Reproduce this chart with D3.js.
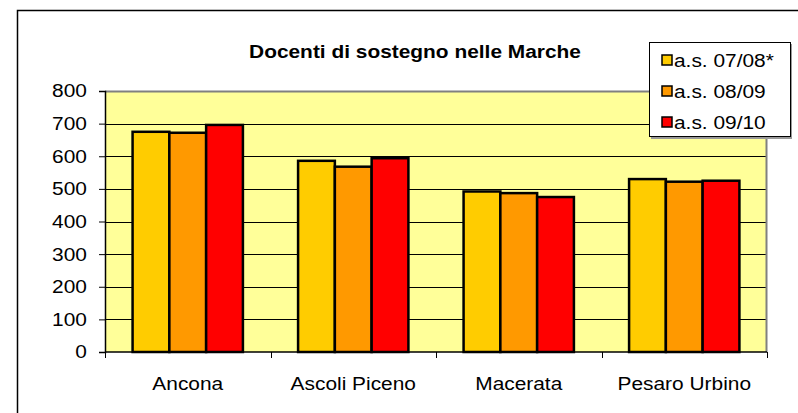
<!DOCTYPE html>
<html>
<head>
<meta charset="utf-8">
<script src="https://cdn.jsdelivr.net/npm/d3@7"></script>
<style>
  body { margin: 0; background: #fff; }
  svg text { font-family: "Liberation Sans", Arial, sans-serif; fill: #000; }
</style>
</head>
<body>
<div id="main"></div>
<script>
// DATA
const categories = ["Ancona", "Ascoli Piceno", "Macerata", "Pesaro Urbino"]
const seriesNames = ["a.s. 07/08*", "a.s. 08/09", "a.s. 09/10"]
const values0708 = [675, 586, 492, 530]
const values0809 = [672, 568, 487, 522]
const values0910 = [696, 594, 475, 525]
const yTicks = [0, 100, 200, 300, 400, 500, 600, 700, 800]

const series = [values0708, values0809, values0910]
const colors = ["#FFCC00", "#FF9900", "#FF0000"]

// SETUP
const width = 798, height = 413
const plot = {left: 105, top: 91, right: 767, bottom: 352}
const FONT = "18.5px"
const STRETCH = 1.13   // the original text is a bit wider than tall

let svg = d3.select("#main").append("svg")
  .attr("width", width)
  .attr("height", height)

// outer frame (right / bottom fall outside the picture)
svg.append("rect")
  .attr("x", 17.5).attr("y", 10.5)
  .attr("width", 800).attr("height", 420)
  .attr("fill", "#fff").attr("stroke", "#000").attr("stroke-width", 1.5)

// Excel style: gap width 150% of one bar
let bandW = (plot.right - plot.left) / categories.length
let barW = bandW / 4.5

let xc = d3.scalePoint()
  .domain(categories)
  .range([plot.left + bandW / 2, plot.right - bandW / 2])

let x1 = d3.scaleBand()
  .domain(d3.range(series.length))
  .range([0, barW * 3])

let y = d3.scaleLinear()
  .domain([0, 800])
  .range([plot.bottom, plot.top])

// plot area
svg.append("rect")
  .attr("x", plot.left).attr("y", plot.top)
  .attr("width", plot.right - plot.left).attr("height", plot.bottom - plot.top)
  .attr("fill", "#FFFF99")

// gridlines
svg.append("g")
  .selectAll("line")
  .data(yTicks.filter(d => d > 0 && d < 800))
  .enter().append("line")
    .attr("x1", plot.left).attr("x2", plot.right)
    .attr("y1", d => Math.round(y(d)) + 0.5).attr("y2", d => Math.round(y(d)) + 0.5)
    .attr("stroke", "#000").attr("stroke-width", 1)

// plot border top/right
svg.append("path")
  .attr("d", `M${plot.left},${plot.top + 0.5}H${plot.right - 0.5}V${plot.bottom}`)
  .attr("fill", "none").attr("stroke", "#808080").attr("stroke-width", 2)

// bars
let groups = svg.append("g")
  .selectAll("g")
  .data(categories)
  .enter().append("g")
    .attr("transform", d => `translate(${xc(d) - barW * 1.5},0)`)

groups.selectAll("rect")
  .data((d, i) => series.map((s, k) => ({k: k, v: s[i]})))
  .enter().append("rect")
    .attr("x", d => x1(d.k))
    .attr("y", d => y(d.v))
    .attr("width", x1.bandwidth())
    .attr("height", d => plot.bottom - y(d.v))
    .attr("fill", d => colors[d.k])
    .attr("stroke", "#000")
    .attr("stroke-width", 2.5)

// y axis
let yAxis = d3.axisLeft(y)
  .tickValues(yTicks)
  .tickSize(6)
  .tickPadding(10)

let gy = svg.append("g")
  .attr("transform", `translate(${plot.left},0)`)
  .call(yAxis)
gy.select(".domain").attr("stroke", "#000").attr("stroke-width", 1.5)
gy.selectAll(".tick line").attr("stroke", "#000")
gy.selectAll("text")
  .style("font-size", FONT)
  .attr("transform", `scale(${STRETCH},1)`)

// x axis
let xTicksPos = d3.range(categories.length + 1).map(i => plot.left + i * bandW)
svg.append("line")
  .attr("x1", plot.left).attr("x2", plot.right)
  .attr("y1", plot.bottom).attr("y2", plot.bottom)
  .attr("stroke", "#000").attr("stroke-width", 1.5)
let gx = svg.append("g")
gx.selectAll("line")
  .data(xTicksPos)
  .enter().append("line")
    .attr("x1", d => Math.round(d) + 0.5).attr("x2", d => Math.round(d) + 0.5)
    .attr("y1", plot.bottom).attr("y2", plot.bottom + 6)
    .attr("stroke", "#000")
gx.selectAll("text")
  .data(categories)
  .enter().append("text")
    .attr("transform", d => `translate(${xc(d)},390) scale(${STRETCH},1)`)
    .attr("text-anchor", "middle")
    .style("font-size", FONT)
    .text(d => d)

// title
svg.append("text")
  .attr("transform", `translate(415,57.5) scale(${STRETCH},1)`)
  .attr("text-anchor", "middle")
  .style("font-size", FONT)
  .style("font-weight", "bold")
  .text("Docenti di sostegno nelle Marche")

// legend
let legend = svg.append("g")
legend.append("rect")
  .attr("x", 651).attr("y", 44)
  .attr("width", 141).attr("height", 95)
  .attr("fill", "#999")
legend.append("rect")
  .attr("x", 649.5).attr("y", 42.5)
  .attr("width", 141).attr("height", 94)
  .attr("fill", "#fff").attr("stroke", "#000").attr("stroke-width", 1)

let items = legend.selectAll("g.item")
  .data(seriesNames)
  .enter().append("g")
    .attr("class", "item")
    .attr("transform", (d, i) => `translate(0,${60 + i * 31})`)
items.append("rect")
  .attr("x", 662).attr("y", -5)
  .attr("width", 10).attr("height", 10)
  .attr("fill", (d, i) => colors[i])
  .attr("stroke", "#000").attr("stroke-width", 1.5)
items.append("text")
  .attr("transform", `translate(674,7) scale(${STRETCH},1)`)
  .style("font-size", FONT)
  .text(d => d)
</script>
</body>
</html>
